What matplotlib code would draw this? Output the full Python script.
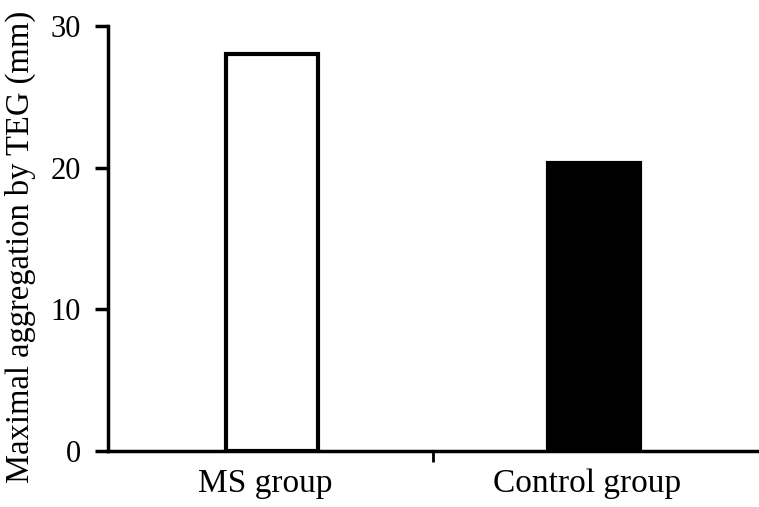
import matplotlib
matplotlib.use("Agg")
import matplotlib.pyplot as plt
import matplotlib.transforms as mtransforms

categories = ["MS group", "Control group"]
values = [28.0, 20.3]
face_colors = ["white", "black"]
yticks = [0, 10, 20, 30]

plt.rcParams['font.family'] = ['Liberation Serif', 'DejaVu Serif']

fig = plt.figure(figsize=(7.59, 5.07), dpi=100)
ax = fig.add_axes([108/759, 1-451/507, 650/759, 425/507])

x = list(range(len(categories)))
ax.bar(x, values, width=0.286, color=face_colors, edgecolor="black", linewidth=3, zorder=3)

ax.set_xlim(-0.51, 1.51)
ax.set_ylim(0, 30)
ax.set_yticks(yticks)
ax.set_yticklabels([str(t) for t in yticks], fontsize=22)
ax.set_xticks([0.5])
ax.set_xticklabels([""])
lab_tr = mtransforms.offset_copy(ax.transData, fig=fig, x=-7, y=0, units="dots")
for xi, lab in zip(x, categories):
    ax.text(xi, -1.25, lab, ha="center", va="top", fontsize=24, transform=lab_tr)

ax.tick_params(axis="y", length=9.5, width=2.5, direction="out", pad=10)
ax.tick_params(axis="x", length=8, width=2, direction="out")
for s in ["top", "right"]:
    ax.spines[s].set_visible(False)
ax.spines["left"].set_linewidth(2.5)
ax.spines["bottom"].set_linewidth(2.5)
ax.set_ylabel("Maximal aggregation by TEG (mm)", fontsize=23.5)
ax.yaxis.set_label_coords(-0.11, 0.481)

fig.savefig("out.png", dpi=100)
